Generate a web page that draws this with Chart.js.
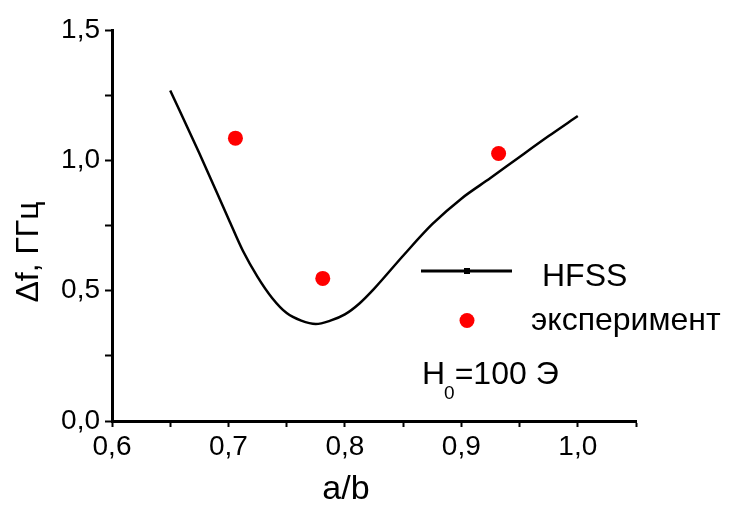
<!DOCTYPE html>
<html>
<head>
<meta charset="utf-8">
<script src="https://cdn.jsdelivr.net/npm/chart.js@4"></script>
<style>
  html, body { margin: 0; padding: 0; background: #fff; }
  canvas { display: block; }
</style>
</head>
<body>
<canvas id="c" width="730" height="505"></canvas>
<script>
// ---- data ----
const hfssX = [0.650, 0.675, 0.700, 0.7125, 0.725, 0.7375, 0.750, 0.7625, 0.775, 0.7875, 0.800, 0.8125, 0.825, 0.850, 0.875, 0.900, 0.925, 0.950, 0.975, 1.000];
const hfssY = [1.268, 1.027, 0.776, 0.652, 0.553, 0.472, 0.414, 0.385, 0.372, 0.385, 0.409, 0.451, 0.507, 0.634, 0.755, 0.853, 0.932, 1.013, 1.093, 1.170];
const expX = [0.706, 0.781, 0.932];
const expY = [1.085, 0.547, 1.026];
const xTickLabels = ['0,6', '0,7', '0,8', '0,9', '1,0'];
const yTickLabels = ['0,0', '0,5', '1,0', '1,5'];
const seriesNames = ['HFSS', 'эксперимент'];
const xTitle = 'a/b';
const yTitle = 'Δf, ГГц';
const note = { main: 'H', sub: '0', rest: '=100 Э' };

const FONT = '"Liberation Sans", Arial, sans-serif';

function fmt(v, labels) {
  const r = Math.round(v * 10);
  if (Math.abs(v * 10 - r) > 1e-6) return '';
  const s = (r / 10).toFixed(1).replace('.', ',');
  return labels.includes(s) ? s : '';
}

const annot = {
  id: 'annot',
  afterDraw(chart) {
    const ctx = chart.ctx;
    ctx.save();
    ctx.fillStyle = '#000';
    // axis titles
    ctx.font = '34px ' + FONT;
    ctx.textAlign = 'center';
    ctx.textBaseline = 'alphabetic';
    ctx.fillText(xTitle, 346, 499);
    ctx.save();
    ctx.translate(38, 252);
    ctx.rotate(-Math.PI / 2);
    ctx.font = '32px ' + FONT;
    ctx.fillText(yTitle, 0, 0);
    ctx.restore();
    // legend
    const ds0 = chart.data.datasets[0];
    const ds1 = chart.data.datasets[1];
    ctx.strokeStyle = ds0.borderColor;
    ctx.lineWidth = 3;
    ctx.beginPath();
    ctx.moveTo(421, 271);
    ctx.lineTo(512, 271);
    ctx.stroke();
    ctx.fillStyle = '#000';
    ctx.fillRect(464, 268, 6, 6);
    ctx.fillStyle = ds1.backgroundColor;
    ctx.beginPath();
    ctx.arc(467, 320.5, 7.5, 0, Math.PI * 2);
    ctx.fill();
    ctx.fillStyle = '#000';
    ctx.textAlign = 'left';
    ctx.font = '32px ' + FONT;
    ctx.fillText(seriesNames[0], 542, 286);
    ctx.fillText(seriesNames[1], 531, 330);
    // note
    ctx.font = '32px ' + FONT;
    ctx.fillText(note.main, 422, 384);
    const wH = ctx.measureText(note.main).width;
    ctx.font = '19px ' + FONT;
    ctx.fillText(note.sub, 422 + wH - 1, 399);
    const wS = ctx.measureText(note.sub).width;
    ctx.font = '32px ' + FONT;
    ctx.fillText(note.rest, 422 + wH + wS - 1, 384);
    ctx.restore();
  }
};

new Chart(document.getElementById('c'), {
  type: 'scatter',
  data: {
    datasets: [
      {
        label: seriesNames[0],
        type: 'line',
        data: hfssX.map((x, i) => ({ x, y: hfssY[i] })),
        borderColor: '#000',
        borderWidth: 2.5,
        pointRadius: 0,
        fill: false,
        cubicInterpolationMode: 'monotone',
        order: 2
      },
      {
        label: seriesNames[1],
        data: expX.map((x, i) => ({ x, y: expY[i] })),
        backgroundColor: '#ff0000',
        borderColor: '#ff0000',
        borderWidth: 0,
        pointRadius: 7.5,
        pointHoverRadius: 7.5,
        order: 1
      }
    ]
  },
  options: {
    responsive: false,
    animation: false,
    devicePixelRatio: 1,
    layout: { padding: { left: 0, top: 30, right: 94, bottom: 0 } },
    plugins: { legend: { display: false }, tooltip: { enabled: false } },
    scales: {
      x: {
        type: 'linear',
        min: 0.6, max: 1.05,
        afterFit(s) { s.height = 84; },
        afterBuildTicks(s) {
          const t = [];
          for (let i = 0; i <= 9; i++) t.push({ value: +(0.6 + i * 0.05).toFixed(2) });
          s.ticks = t;
        },
        border: { display: true, color: '#000', width: 3 },
        grid: { drawOnChartArea: false, drawTicks: true, tickLength: 6, tickWidth: 2, tickColor: '#000' },
        ticks: {
          color: '#000', padding: 3, maxRotation: 0, autoSkip: false,
          font: { family: FONT, size: 28 },
          callback: (v) => fmt(v, xTickLabels)
        },
        title: { display: false }
      },
      y: {
        type: 'linear',
        min: 0, max: 1.5,
        afterFit(s) { s.width = 112; },
        afterBuildTicks(s) {
          const t = [];
          for (let i = 0; i <= 6; i++) t.push({ value: +(i * 0.25).toFixed(2) });
          s.ticks = t;
        },
        border: { display: true, color: '#000', width: 3 },
        grid: { drawOnChartArea: false, drawTicks: true, tickLength: 7, tickWidth: 2, tickColor: '#000' },
        ticks: {
          color: '#000', padding: 5, autoSkip: false,
          font: { family: FONT, size: 28 },
          callback: (v) => fmt(v, yTickLabels)
        },
        title: { display: false }
      }
    }
  },
  plugins: [annot]
});
</script>
</body>
</html>
